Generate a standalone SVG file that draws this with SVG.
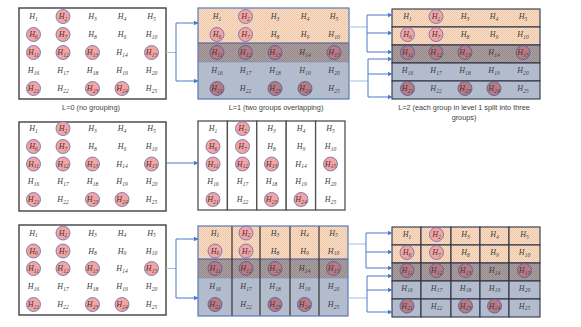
<svg xmlns="http://www.w3.org/2000/svg" width="581" height="327" viewBox="0 0 581 327">
<style>
.h{font-family:"Liberation Serif","DejaVu Serif",serif;font-style:italic;font-size:8px;fill:#3a3a3a;text-anchor:middle}
.s{font-size:5.5px}
.lbl{font-family:"Liberation Sans",Arial,sans-serif;font-size:7.3px;fill:#404040;text-anchor:middle}
.c1{fill:#f6a3a3;stroke:#5b6fae;stroke-width:0.8}
.c2{fill:#b97a85;stroke:#4a5a95;stroke-width:0.8}
.box{fill:#fff;stroke:#404040;stroke-width:1.4}
.col{fill:#fff;stroke:#505050;stroke-width:1.3}
.grp{fill:none;stroke:#5a78b4;stroke-width:1.2}
.cell{stroke:#2e3448;stroke-width:1.1}
.blue{fill:#b3bccd}
.stub{fill:none;stroke:#9fbfe6;stroke-width:1}
.conn{fill:none;stroke:#4a7bc8;stroke-width:1}
</style>
<defs>
<pattern id="pO" width="2" height="2" patternUnits="userSpaceOnUse">
<rect width="2" height="2" fill="#f9dfca"/>
<rect width="1" height="1" fill="#efc6a6"/>
<rect x="1" y="1" width="1" height="1" fill="#efc6a6"/>
</pattern>
<pattern id="pD" width="2" height="2" patternUnits="userSpaceOnUse">
<rect width="2" height="2" fill="#aca0a0"/>
<rect width="1" height="1" fill="#968989"/>
<rect x="1" y="1" width="1" height="1" fill="#968989"/>
</pattern>
<marker id="ar" markerWidth="5" markerHeight="5" refX="4.5" refY="2.5" orient="auto" markerUnits="userSpaceOnUse">
<path d="M0,0 L5,2.5 L0,5 Z" fill="#4a7bc8"/>
</marker>
</defs>

<!-- Panel L=0 top -->
<g id="l0-top">
<rect class="box" x="19" y="8" width="147" height="91"/>
<circle class="c1" cx="63" cy="16.5" r="7"/>
<circle class="c1" cx="33.5" cy="34.5" r="7"/>
<circle class="c1" cx="63" cy="34.5" r="7"/>
<circle class="c1" cx="33.5" cy="52.5" r="7"/>
<circle class="c1" cx="63" cy="52.5" r="7"/>
<circle class="c1" cx="92.5" cy="52.5" r="7"/>
<circle class="c1" cx="151.5" cy="52.5" r="7"/>
<circle class="c1" cx="33.5" cy="88.5" r="7"/>
<circle class="c1" cx="92.5" cy="88.5" r="7"/>
<circle class="c1" cx="122" cy="88.5" r="7"/>
<text class="h" x="33.5" y="19">H<tspan class="s" dy="1.8">1</tspan></text>
<text class="h" x="63" y="19">H<tspan class="s" dy="1.8">2</tspan></text>
<text class="h" x="92.5" y="19">H<tspan class="s" dy="1.8">3</tspan></text>
<text class="h" x="122" y="19">H<tspan class="s" dy="1.8">4</tspan></text>
<text class="h" x="151.5" y="19">H<tspan class="s" dy="1.8">5</tspan></text>
<text class="h" x="33.5" y="37">H<tspan class="s" dy="1.8">6</tspan></text>
<text class="h" x="63" y="37">H<tspan class="s" dy="1.8">7</tspan></text>
<text class="h" x="92.5" y="37">H<tspan class="s" dy="1.8">8</tspan></text>
<text class="h" x="122" y="37">H<tspan class="s" dy="1.8">9</tspan></text>
<text class="h" x="151.5" y="37">H<tspan class="s" dy="1.8">10</tspan></text>
<text class="h" x="33.5" y="55">H<tspan class="s" dy="1.8">11</tspan></text>
<text class="h" x="63" y="55">H<tspan class="s" dy="1.8">12</tspan></text>
<text class="h" x="92.5" y="55">H<tspan class="s" dy="1.8">13</tspan></text>
<text class="h" x="122" y="55">H<tspan class="s" dy="1.8">14</tspan></text>
<text class="h" x="151.5" y="55">H<tspan class="s" dy="1.8">15</tspan></text>
<text class="h" x="33.5" y="73">H<tspan class="s" dy="1.8">16</tspan></text>
<text class="h" x="63" y="73">H<tspan class="s" dy="1.8">17</tspan></text>
<text class="h" x="92.5" y="73">H<tspan class="s" dy="1.8">18</tspan></text>
<text class="h" x="122" y="73">H<tspan class="s" dy="1.8">19</tspan></text>
<text class="h" x="151.5" y="73">H<tspan class="s" dy="1.8">20</tspan></text>
<text class="h" x="33.5" y="91">H<tspan class="s" dy="1.8">21</tspan></text>
<text class="h" x="63" y="91">H<tspan class="s" dy="1.8">22</tspan></text>
<text class="h" x="92.5" y="91">H<tspan class="s" dy="1.8">23</tspan></text>
<text class="h" x="122" y="91">H<tspan class="s" dy="1.8">24</tspan></text>
<text class="h" x="151.5" y="91">H<tspan class="s" dy="1.8">25</tspan></text>
<text class="lbl" x="91" y="110">L=0 (no grouping)</text>
</g>

<!-- Panel L=1 top -->
<g id="l1-top">
<rect x="198" y="8" width="151" height="35" fill="url(#pO)"/>
<rect x="198" y="43" width="151" height="19" fill="url(#pD)"/>
<rect class="blue" x="198" y="62" width="151" height="37"/>
<line x1="198" y1="62" x2="349" y2="62" stroke="#7f8fb8" stroke-width="0.6"/>
<line x1="198" y1="43" x2="349" y2="43" stroke="#3f5a9a" stroke-width="1.2"/>
<rect class="grp" x="198" y="8" width="151" height="91"/>
<circle class="c1" cx="245.5" cy="16.5" r="7"/>
<circle class="c1" cx="217" cy="34.5" r="7"/>
<circle class="c1" cx="245.5" cy="34.5" r="7"/>
<circle class="c2" cx="217" cy="52.5" r="7"/>
<circle class="c2" cx="245.5" cy="52.5" r="7"/>
<circle class="c2" cx="275" cy="52.5" r="7"/>
<circle class="c2" cx="334" cy="52.5" r="7"/>
<circle class="c2" cx="217" cy="88.5" r="7"/>
<circle class="c2" cx="275" cy="88.5" r="7"/>
<circle class="c2" cx="305" cy="88.5" r="7"/>
<text class="h" x="217" y="19">H<tspan class="s" dy="1.8">1</tspan></text>
<text class="h" x="245.5" y="19">H<tspan class="s" dy="1.8">2</tspan></text>
<text class="h" x="275" y="19">H<tspan class="s" dy="1.8">3</tspan></text>
<text class="h" x="305" y="19">H<tspan class="s" dy="1.8">4</tspan></text>
<text class="h" x="334" y="19">H<tspan class="s" dy="1.8">5</tspan></text>
<text class="h" x="217" y="37">H<tspan class="s" dy="1.8">6</tspan></text>
<text class="h" x="245.5" y="37">H<tspan class="s" dy="1.8">7</tspan></text>
<text class="h" x="275" y="37">H<tspan class="s" dy="1.8">8</tspan></text>
<text class="h" x="305" y="37">H<tspan class="s" dy="1.8">9</tspan></text>
<text class="h" x="334" y="37">H<tspan class="s" dy="1.8">10</tspan></text>
<text class="h" x="217" y="55">H<tspan class="s" dy="1.8">11</tspan></text>
<text class="h" x="245.5" y="55">H<tspan class="s" dy="1.8">12</tspan></text>
<text class="h" x="275" y="55">H<tspan class="s" dy="1.8">13</tspan></text>
<text class="h" x="305" y="55">H<tspan class="s" dy="1.8">14</tspan></text>
<text class="h" x="334" y="55">H<tspan class="s" dy="1.8">15</tspan></text>
<text class="h" x="217" y="73">H<tspan class="s" dy="1.8">16</tspan></text>
<text class="h" x="245.5" y="73">H<tspan class="s" dy="1.8">17</tspan></text>
<text class="h" x="275" y="73">H<tspan class="s" dy="1.8">18</tspan></text>
<text class="h" x="305" y="73">H<tspan class="s" dy="1.8">19</tspan></text>
<text class="h" x="334" y="73">H<tspan class="s" dy="1.8">20</tspan></text>
<text class="h" x="217" y="91">H<tspan class="s" dy="1.8">21</tspan></text>
<text class="h" x="245.5" y="91">H<tspan class="s" dy="1.8">22</tspan></text>
<text class="h" x="275" y="91">H<tspan class="s" dy="1.8">23</tspan></text>
<text class="h" x="305" y="91">H<tspan class="s" dy="1.8">24</tspan></text>
<text class="h" x="334" y="91">H<tspan class="s" dy="1.8">25</tspan></text>
<text class="lbl" x="276" y="110">L=1 (two groups overlapping)</text>
</g>

<!-- Panel L=2 top -->
<g id="l2-top">
<rect class="cell" x="392" y="9" width="148" height="18" fill="url(#pO)"/>
<rect class="cell" x="392" y="27" width="148" height="18" fill="url(#pO)"/>
<rect class="cell" x="392" y="45" width="148" height="18" fill="url(#pD)"/>
<rect class="cell blue" x="392" y="63" width="148" height="18"/>
<rect class="cell blue" x="392" y="81" width="148" height="18"/>
<circle class="c1" cx="436" cy="16.5" r="7"/>
<circle class="c1" cx="407.5" cy="34.5" r="7"/>
<circle class="c1" cx="436" cy="34.5" r="7"/>
<circle class="c2" cx="407.5" cy="52.5" r="7"/>
<circle class="c2" cx="436" cy="52.5" r="7"/>
<circle class="c2" cx="465" cy="52.5" r="7"/>
<circle class="c2" cx="523" cy="52.5" r="7"/>
<circle class="c2" cx="407.5" cy="88.5" r="7"/>
<circle class="c2" cx="465" cy="88.5" r="7"/>
<circle class="c2" cx="494" cy="88.5" r="7"/>
<text class="h" x="407.5" y="19">H<tspan class="s" dy="1.8">1</tspan></text>
<text class="h" x="436" y="19">H<tspan class="s" dy="1.8">2</tspan></text>
<text class="h" x="465" y="19">H<tspan class="s" dy="1.8">3</tspan></text>
<text class="h" x="494" y="19">H<tspan class="s" dy="1.8">4</tspan></text>
<text class="h" x="523" y="19">H<tspan class="s" dy="1.8">5</tspan></text>
<text class="h" x="407.5" y="37">H<tspan class="s" dy="1.8">6</tspan></text>
<text class="h" x="436" y="37">H<tspan class="s" dy="1.8">7</tspan></text>
<text class="h" x="465" y="37">H<tspan class="s" dy="1.8">8</tspan></text>
<text class="h" x="494" y="37">H<tspan class="s" dy="1.8">9</tspan></text>
<text class="h" x="523" y="37">H<tspan class="s" dy="1.8">10</tspan></text>
<text class="h" x="407.5" y="55">H<tspan class="s" dy="1.8">11</tspan></text>
<text class="h" x="436" y="55">H<tspan class="s" dy="1.8">12</tspan></text>
<text class="h" x="465" y="55">H<tspan class="s" dy="1.8">13</tspan></text>
<text class="h" x="494" y="55">H<tspan class="s" dy="1.8">14</tspan></text>
<text class="h" x="523" y="55">H<tspan class="s" dy="1.8">15</tspan></text>
<text class="h" x="407.5" y="73">H<tspan class="s" dy="1.8">16</tspan></text>
<text class="h" x="436" y="73">H<tspan class="s" dy="1.8">17</tspan></text>
<text class="h" x="465" y="73">H<tspan class="s" dy="1.8">18</tspan></text>
<text class="h" x="494" y="73">H<tspan class="s" dy="1.8">19</tspan></text>
<text class="h" x="523" y="73">H<tspan class="s" dy="1.8">20</tspan></text>
<text class="h" x="407.5" y="91">H<tspan class="s" dy="1.8">21</tspan></text>
<text class="h" x="436" y="91">H<tspan class="s" dy="1.8">22</tspan></text>
<text class="h" x="465" y="91">H<tspan class="s" dy="1.8">23</tspan></text>
<text class="h" x="494" y="91">H<tspan class="s" dy="1.8">24</tspan></text>
<text class="h" x="523" y="91">H<tspan class="s" dy="1.8">25</tspan></text>
<text class="lbl" x="464" y="110">L=2 (each group in level 1 split into three</text>
<text class="lbl" x="464" y="120">groups)</text>
</g>

<!-- Middle row: L=0 -->
<g id="l0-mid">
<rect class="box" x="19" y="122" width="147" height="89"/>
<circle class="c1" cx="63" cy="128.5" r="7"/>
<circle class="c1" cx="33.5" cy="146.5" r="7"/>
<circle class="c1" cx="63" cy="146.5" r="7"/>
<circle class="c1" cx="33.5" cy="164" r="7"/>
<circle class="c1" cx="63" cy="164" r="7"/>
<circle class="c1" cx="92.5" cy="164" r="7"/>
<circle class="c1" cx="151.5" cy="164" r="7"/>
<circle class="c1" cx="33.5" cy="199.5" r="7"/>
<circle class="c1" cx="92.5" cy="199.5" r="7"/>
<circle class="c1" cx="122" cy="199.5" r="7"/>
<text class="h" x="33.5" y="131">H<tspan class="s" dy="1.8">1</tspan></text>
<text class="h" x="63" y="131">H<tspan class="s" dy="1.8">2</tspan></text>
<text class="h" x="92.5" y="131">H<tspan class="s" dy="1.8">3</tspan></text>
<text class="h" x="122" y="131">H<tspan class="s" dy="1.8">4</tspan></text>
<text class="h" x="151.5" y="131">H<tspan class="s" dy="1.8">5</tspan></text>
<text class="h" x="33.5" y="149">H<tspan class="s" dy="1.8">6</tspan></text>
<text class="h" x="63" y="149">H<tspan class="s" dy="1.8">7</tspan></text>
<text class="h" x="92.5" y="149">H<tspan class="s" dy="1.8">8</tspan></text>
<text class="h" x="122" y="149">H<tspan class="s" dy="1.8">9</tspan></text>
<text class="h" x="151.5" y="149">H<tspan class="s" dy="1.8">10</tspan></text>
<text class="h" x="33.5" y="166.5">H<tspan class="s" dy="1.8">11</tspan></text>
<text class="h" x="63" y="166.5">H<tspan class="s" dy="1.8">12</tspan></text>
<text class="h" x="92.5" y="166.5">H<tspan class="s" dy="1.8">13</tspan></text>
<text class="h" x="122" y="166.5">H<tspan class="s" dy="1.8">14</tspan></text>
<text class="h" x="151.5" y="166.5">H<tspan class="s" dy="1.8">15</tspan></text>
<text class="h" x="33.5" y="184">H<tspan class="s" dy="1.8">16</tspan></text>
<text class="h" x="63" y="184">H<tspan class="s" dy="1.8">17</tspan></text>
<text class="h" x="92.5" y="184">H<tspan class="s" dy="1.8">18</tspan></text>
<text class="h" x="122" y="184">H<tspan class="s" dy="1.8">19</tspan></text>
<text class="h" x="151.5" y="184">H<tspan class="s" dy="1.8">20</tspan></text>
<text class="h" x="33.5" y="202">H<tspan class="s" dy="1.8">21</tspan></text>
<text class="h" x="63" y="202">H<tspan class="s" dy="1.8">22</tspan></text>
<text class="h" x="92.5" y="202">H<tspan class="s" dy="1.8">23</tspan></text>
<text class="h" x="122" y="202">H<tspan class="s" dy="1.8">24</tspan></text>
<text class="h" x="151.5" y="202">H<tspan class="s" dy="1.8">25</tspan></text>
</g>

<!-- Middle row: columns -->
<g id="cols-mid">
<rect class="col" x="198" y="121" width="29.4" height="89"/>
<rect class="col" x="227.4" y="121" width="29.4" height="89"/>
<rect class="col" x="256.8" y="121" width="29.4" height="89"/>
<rect class="col" x="286.2" y="121" width="29.4" height="89"/>
<rect class="col" x="315.6" y="121" width="29.4" height="89"/>
<circle class="c1" cx="242.5" cy="128.5" r="7"/>
<circle class="c1" cx="213" cy="146.5" r="7"/>
<circle class="c1" cx="242.5" cy="146.5" r="7"/>
<circle class="c1" cx="213" cy="164" r="7"/>
<circle class="c1" cx="242.5" cy="164" r="7"/>
<circle class="c1" cx="271.5" cy="164" r="7"/>
<circle class="c1" cx="330.5" cy="164" r="7"/>
<circle class="c1" cx="213" cy="199.5" r="7"/>
<circle class="c1" cx="271.5" cy="199.5" r="7"/>
<circle class="c1" cx="301" cy="199.5" r="7"/>
<text class="h" x="213" y="131">H<tspan class="s" dy="1.8">1</tspan></text>
<text class="h" x="242.5" y="131">H<tspan class="s" dy="1.8">2</tspan></text>
<text class="h" x="271.5" y="131">H<tspan class="s" dy="1.8">3</tspan></text>
<text class="h" x="301" y="131">H<tspan class="s" dy="1.8">4</tspan></text>
<text class="h" x="330.5" y="131">H<tspan class="s" dy="1.8">5</tspan></text>
<text class="h" x="213" y="149">H<tspan class="s" dy="1.8">6</tspan></text>
<text class="h" x="242.5" y="149">H<tspan class="s" dy="1.8">7</tspan></text>
<text class="h" x="271.5" y="149">H<tspan class="s" dy="1.8">8</tspan></text>
<text class="h" x="301" y="149">H<tspan class="s" dy="1.8">9</tspan></text>
<text class="h" x="330.5" y="149">H<tspan class="s" dy="1.8">10</tspan></text>
<text class="h" x="213" y="166.5">H<tspan class="s" dy="1.8">11</tspan></text>
<text class="h" x="242.5" y="166.5">H<tspan class="s" dy="1.8">12</tspan></text>
<text class="h" x="271.5" y="166.5">H<tspan class="s" dy="1.8">13</tspan></text>
<text class="h" x="301" y="166.5">H<tspan class="s" dy="1.8">14</tspan></text>
<text class="h" x="330.5" y="166.5">H<tspan class="s" dy="1.8">15</tspan></text>
<text class="h" x="213" y="184">H<tspan class="s" dy="1.8">16</tspan></text>
<text class="h" x="242.5" y="184">H<tspan class="s" dy="1.8">17</tspan></text>
<text class="h" x="271.5" y="184">H<tspan class="s" dy="1.8">18</tspan></text>
<text class="h" x="301" y="184">H<tspan class="s" dy="1.8">19</tspan></text>
<text class="h" x="330.5" y="184">H<tspan class="s" dy="1.8">20</tspan></text>
<text class="h" x="213" y="202">H<tspan class="s" dy="1.8">21</tspan></text>
<text class="h" x="242.5" y="202">H<tspan class="s" dy="1.8">22</tspan></text>
<text class="h" x="271.5" y="202">H<tspan class="s" dy="1.8">23</tspan></text>
<text class="h" x="301" y="202">H<tspan class="s" dy="1.8">24</tspan></text>
<text class="h" x="330.5" y="202">H<tspan class="s" dy="1.8">25</tspan></text>
</g>

<!-- Bottom row: L=0 -->
<g id="l0-bot">
<rect class="box" x="19" y="225" width="147" height="90"/>
<circle class="c1" cx="63" cy="233" r="7"/>
<circle class="c1" cx="33.5" cy="251" r="7"/>
<circle class="c1" cx="63" cy="251" r="7"/>
<circle class="c1" cx="33.5" cy="268.5" r="7"/>
<circle class="c1" cx="63" cy="268.5" r="7"/>
<circle class="c1" cx="92.5" cy="268.5" r="7"/>
<circle class="c1" cx="151.5" cy="268.5" r="7"/>
<circle class="c1" cx="33.5" cy="304.5" r="7"/>
<circle class="c1" cx="92.5" cy="304.5" r="7"/>
<circle class="c1" cx="122" cy="304.5" r="7"/>
<text class="h" x="33.5" y="235.5">H<tspan class="s" dy="1.8">1</tspan></text>
<text class="h" x="63" y="235.5">H<tspan class="s" dy="1.8">2</tspan></text>
<text class="h" x="92.5" y="235.5">H<tspan class="s" dy="1.8">3</tspan></text>
<text class="h" x="122" y="235.5">H<tspan class="s" dy="1.8">4</tspan></text>
<text class="h" x="151.5" y="235.5">H<tspan class="s" dy="1.8">5</tspan></text>
<text class="h" x="33.5" y="253.5">H<tspan class="s" dy="1.8">6</tspan></text>
<text class="h" x="63" y="253.5">H<tspan class="s" dy="1.8">7</tspan></text>
<text class="h" x="92.5" y="253.5">H<tspan class="s" dy="1.8">8</tspan></text>
<text class="h" x="122" y="253.5">H<tspan class="s" dy="1.8">9</tspan></text>
<text class="h" x="151.5" y="253.5">H<tspan class="s" dy="1.8">10</tspan></text>
<text class="h" x="33.5" y="271">H<tspan class="s" dy="1.8">11</tspan></text>
<text class="h" x="63" y="271">H<tspan class="s" dy="1.8">12</tspan></text>
<text class="h" x="92.5" y="271">H<tspan class="s" dy="1.8">13</tspan></text>
<text class="h" x="122" y="271">H<tspan class="s" dy="1.8">14</tspan></text>
<text class="h" x="151.5" y="271">H<tspan class="s" dy="1.8">15</tspan></text>
<text class="h" x="33.5" y="289">H<tspan class="s" dy="1.8">16</tspan></text>
<text class="h" x="63" y="289">H<tspan class="s" dy="1.8">17</tspan></text>
<text class="h" x="92.5" y="289">H<tspan class="s" dy="1.8">18</tspan></text>
<text class="h" x="122" y="289">H<tspan class="s" dy="1.8">19</tspan></text>
<text class="h" x="151.5" y="289">H<tspan class="s" dy="1.8">20</tspan></text>
<text class="h" x="33.5" y="307">H<tspan class="s" dy="1.8">21</tspan></text>
<text class="h" x="63" y="307">H<tspan class="s" dy="1.8">22</tspan></text>
<text class="h" x="92.5" y="307">H<tspan class="s" dy="1.8">23</tspan></text>
<text class="h" x="122" y="307">H<tspan class="s" dy="1.8">24</tspan></text>
<text class="h" x="151.5" y="307">H<tspan class="s" dy="1.8">25</tspan></text>
</g>

<!-- Bottom row: L=1 with columns -->
<g id="l1-bot">
<rect x="198" y="226" width="150" height="33" fill="url(#pO)"/>
<rect x="198" y="259" width="150" height="19" fill="url(#pD)"/>
<rect class="blue" x="198" y="278" width="150" height="38"/>
<line x1="198" y1="278" x2="348" y2="278" stroke="#7f8fb8" stroke-width="0.6"/>
<line x1="198" y1="259" x2="348" y2="259" stroke="#3f5a9a" stroke-width="1.2"/>
<g stroke="#333" stroke-width="1.2">
<line x1="232" y1="226" x2="232" y2="316"/>
<line x1="260" y1="226" x2="260" y2="316"/>
<line x1="290" y1="226" x2="290" y2="316"/>
<line x1="319" y1="226" x2="319" y2="316"/>
</g>
<rect class="grp" x="198" y="226" width="150" height="90"/>
<circle class="c1" cx="246" cy="233" r="7"/>
<circle class="c1" cx="215" cy="251" r="7"/>
<circle class="c1" cx="246" cy="251" r="7"/>
<circle class="c2" cx="215" cy="268.5" r="7"/>
<circle class="c2" cx="246" cy="268.5" r="7"/>
<circle class="c2" cx="275" cy="268.5" r="7"/>
<circle class="c2" cx="333.5" cy="268.5" r="7"/>
<circle class="c2" cx="215" cy="304.5" r="7"/>
<circle class="c2" cx="275" cy="304.5" r="7"/>
<circle class="c2" cx="304.5" cy="304.5" r="7"/>
<text class="h" x="215" y="235.5">H<tspan class="s" dy="1.8">1</tspan></text>
<text class="h" x="246" y="235.5">H<tspan class="s" dy="1.8">2</tspan></text>
<text class="h" x="275" y="235.5">H<tspan class="s" dy="1.8">3</tspan></text>
<text class="h" x="304.5" y="235.5">H<tspan class="s" dy="1.8">4</tspan></text>
<text class="h" x="333.5" y="235.5">H<tspan class="s" dy="1.8">5</tspan></text>
<text class="h" x="215" y="253.5">H<tspan class="s" dy="1.8">6</tspan></text>
<text class="h" x="246" y="253.5">H<tspan class="s" dy="1.8">7</tspan></text>
<text class="h" x="275" y="253.5">H<tspan class="s" dy="1.8">8</tspan></text>
<text class="h" x="304.5" y="253.5">H<tspan class="s" dy="1.8">9</tspan></text>
<text class="h" x="333.5" y="253.5">H<tspan class="s" dy="1.8">10</tspan></text>
<text class="h" x="215" y="271">H<tspan class="s" dy="1.8">11</tspan></text>
<text class="h" x="246" y="271">H<tspan class="s" dy="1.8">12</tspan></text>
<text class="h" x="275" y="271">H<tspan class="s" dy="1.8">13</tspan></text>
<text class="h" x="304.5" y="271">H<tspan class="s" dy="1.8">14</tspan></text>
<text class="h" x="333.5" y="271">H<tspan class="s" dy="1.8">15</tspan></text>
<text class="h" x="215" y="289">H<tspan class="s" dy="1.8">16</tspan></text>
<text class="h" x="246" y="289">H<tspan class="s" dy="1.8">17</tspan></text>
<text class="h" x="275" y="289">H<tspan class="s" dy="1.8">18</tspan></text>
<text class="h" x="304.5" y="289">H<tspan class="s" dy="1.8">19</tspan></text>
<text class="h" x="333.5" y="289">H<tspan class="s" dy="1.8">20</tspan></text>
<text class="h" x="215" y="307">H<tspan class="s" dy="1.8">21</tspan></text>
<text class="h" x="246" y="307">H<tspan class="s" dy="1.8">22</tspan></text>
<text class="h" x="275" y="307">H<tspan class="s" dy="1.8">23</tspan></text>
<text class="h" x="304.5" y="307">H<tspan class="s" dy="1.8">24</tspan></text>
<text class="h" x="333.5" y="307">H<tspan class="s" dy="1.8">25</tspan></text>
</g>

<!-- Bottom row: L=2 grid -->
<g id="l2-bot">
<g class="cell" fill="url(#pO)">
<rect x="392" y="227" width="29" height="18"/><rect x="421" y="227" width="30" height="18"/><rect x="451" y="227" width="29" height="18"/><rect x="480" y="227" width="29" height="18"/><rect x="509" y="227" width="31" height="18"/>
<rect x="392" y="245" width="29" height="18"/><rect x="421" y="245" width="30" height="18"/><rect x="451" y="245" width="29" height="18"/><rect x="480" y="245" width="29" height="18"/><rect x="509" y="245" width="31" height="18"/>
</g>
<g class="cell" fill="url(#pD)">
<rect x="392" y="263" width="29" height="18"/><rect x="421" y="263" width="30" height="18"/><rect x="451" y="263" width="29" height="18"/><rect x="480" y="263" width="29" height="18"/><rect x="509" y="263" width="31" height="18"/>
</g>
<g class="cell" fill="#b3bccd">
<rect x="392" y="281" width="29" height="18"/><rect x="421" y="281" width="30" height="18"/><rect x="451" y="281" width="29" height="18"/><rect x="480" y="281" width="29" height="18"/><rect x="509" y="281" width="31" height="18"/>
<rect x="392" y="299" width="29" height="18"/><rect x="421" y="299" width="30" height="18"/><rect x="451" y="299" width="29" height="18"/><rect x="480" y="299" width="29" height="18"/><rect x="509" y="299" width="31" height="18"/>
</g>
<circle class="c1" cx="436.5" cy="234.5" r="7"/>
<circle class="c1" cx="407" cy="252.5" r="7"/>
<circle class="c1" cx="436.5" cy="252.5" r="7"/>
<circle class="c2" cx="407" cy="270.5" r="7"/>
<circle class="c2" cx="436.5" cy="270.5" r="7"/>
<circle class="c2" cx="465.5" cy="270.5" r="7"/>
<circle class="c2" cx="524.5" cy="270.5" r="7"/>
<circle class="c2" cx="407" cy="306" r="7"/>
<circle class="c2" cx="465.5" cy="306" r="7"/>
<circle class="c2" cx="494.5" cy="306" r="7"/>
<text class="h" x="407" y="237">H<tspan class="s" dy="1.8">1</tspan></text>
<text class="h" x="436.5" y="237">H<tspan class="s" dy="1.8">2</tspan></text>
<text class="h" x="465.5" y="237">H<tspan class="s" dy="1.8">3</tspan></text>
<text class="h" x="494.5" y="237">H<tspan class="s" dy="1.8">4</tspan></text>
<text class="h" x="524.5" y="237">H<tspan class="s" dy="1.8">5</tspan></text>
<text class="h" x="407" y="255">H<tspan class="s" dy="1.8">6</tspan></text>
<text class="h" x="436.5" y="255">H<tspan class="s" dy="1.8">7</tspan></text>
<text class="h" x="465.5" y="255">H<tspan class="s" dy="1.8">8</tspan></text>
<text class="h" x="494.5" y="255">H<tspan class="s" dy="1.8">9</tspan></text>
<text class="h" x="524.5" y="255">H<tspan class="s" dy="1.8">10</tspan></text>
<text class="h" x="407" y="273">H<tspan class="s" dy="1.8">11</tspan></text>
<text class="h" x="436.5" y="273">H<tspan class="s" dy="1.8">12</tspan></text>
<text class="h" x="465.5" y="273">H<tspan class="s" dy="1.8">13</tspan></text>
<text class="h" x="494.5" y="273">H<tspan class="s" dy="1.8">14</tspan></text>
<text class="h" x="524.5" y="273">H<tspan class="s" dy="1.8">15</tspan></text>
<text class="h" x="407" y="290.5">H<tspan class="s" dy="1.8">16</tspan></text>
<text class="h" x="436.5" y="290.5">H<tspan class="s" dy="1.8">17</tspan></text>
<text class="h" x="465.5" y="290.5">H<tspan class="s" dy="1.8">18</tspan></text>
<text class="h" x="494.5" y="290.5">H<tspan class="s" dy="1.8">19</tspan></text>
<text class="h" x="524.5" y="290.5">H<tspan class="s" dy="1.8">20</tspan></text>
<text class="h" x="407" y="308.5">H<tspan class="s" dy="1.8">21</tspan></text>
<text class="h" x="436.5" y="308.5">H<tspan class="s" dy="1.8">22</tspan></text>
<text class="h" x="465.5" y="308.5">H<tspan class="s" dy="1.8">23</tspan></text>
<text class="h" x="494.5" y="308.5">H<tspan class="s" dy="1.8">24</tspan></text>
<text class="h" x="524.5" y="308.5">H<tspan class="s" dy="1.8">25</tspan></text>
</g>

<!-- Connectors -->
<g id="connectors">
<path class="stub" d="M166,52.5 H176"/>
<path class="conn" d="M176,23 V81"/>
<path class="conn" d="M176,23 H198" marker-end="url(#ar)"/>
<path class="conn" d="M176,81 H198" marker-end="url(#ar)"/>

<path class="stub" d="M349,27 H367"/>
<path class="conn" d="M367,15 V52"/>
<path class="conn" d="M367,15 H392" marker-end="url(#ar)"/>
<path class="conn" d="M367,33 H392" marker-end="url(#ar)"/>
<path class="conn" d="M367,52 H392" marker-end="url(#ar)"/>
<path class="stub" d="M349,81 H368"/>
<path class="conn" d="M368,59 V97"/>
<path class="conn" d="M368,59 H392" marker-end="url(#ar)"/>
<path class="conn" d="M368,74 H392" marker-end="url(#ar)"/>
<path class="conn" d="M368,97 H392" marker-end="url(#ar)"/>

<path class="conn" d="M166,163 H198" marker-end="url(#ar)"/>

<path class="stub" d="M166,268.5 H176"/>
<path class="conn" d="M176,239 V298"/>
<path class="conn" d="M176,239 H198" marker-end="url(#ar)"/>
<path class="conn" d="M176,298 H198" marker-end="url(#ar)"/>

<path class="stub" d="M348,244 H366"/>
<path class="conn" d="M366,233 V268"/>
<path class="conn" d="M366,233 H392" marker-end="url(#ar)"/>
<path class="conn" d="M366,252 H392" marker-end="url(#ar)"/>
<path class="conn" d="M366,268 H392" marker-end="url(#ar)"/>
<path class="stub" d="M348,298 H367"/>
<path class="conn" d="M367,276 V312"/>
<path class="conn" d="M367,276 H392" marker-end="url(#ar)"/>
<path class="conn" d="M367,290 H392" marker-end="url(#ar)"/>
<path class="conn" d="M367,312 H392" marker-end="url(#ar)"/>
</g>
</svg>
